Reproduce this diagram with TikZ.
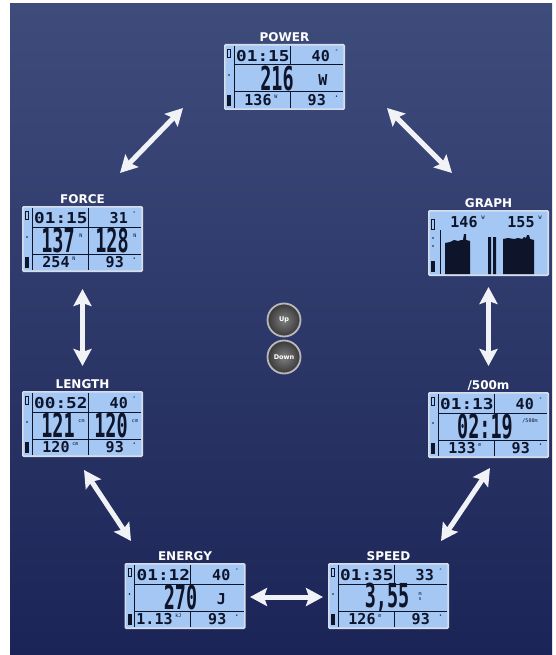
\documentclass[tikz,border=0pt]{standalone}
\usepackage{fontspec}
\usepackage{graphicx}
\usetikzlibrary{arrows.meta,calc}
\newfontfamily\lcdfont{DejaVu Sans Mono}
\newfontfamily\lblfont{DejaVu Sans}
\definecolor{bgtop}{RGB}{62,76,124}
\definecolor{bgbot}{RGB}{27,36,86}
\definecolor{lcdfill}{RGB}{164,199,244}
\definecolor{lcdink}{RGB}{14,20,42}
\definecolor{lcdrim}{RGB}{214,222,234}
\definecolor{arrowcol}{RGB}{240,242,246}
\newcommand\wideTime[1]{\scalebox{1.18}[1]{#1}}
\newcommand\bigDig[1]{\scalebox{0.56}[1]{\fontsize{33}{33}\selectfont\bfseries #1}}
\tikzset{
  lcdbox/.style={draw=lcdrim, line width=1.6pt, fill=lcdfill, minimum width=119.4pt, minimum height=64.4pt, inner sep=0pt, rounded corners=1pt},
  lcdlabel/.style={text=white, font=\lblfont\bfseries\fontsize{12}{12}\selectfont, inner sep=0pt, anchor=base},
  lcdline/.style={draw=lcdink, line width=1pt},
  lcds/.style={text=lcdink, font=\lcdfont\bfseries\fontsize{15}{15}\selectfont, inner sep=0pt},
  lcdb/.style={text=lcdink, font=\lcdfont, inner sep=0pt},
  lcdt/.style={text=lcdink, font=\lcdfont\fontsize{5}{5}\selectfont, inner sep=0pt, align=center},
  dbl/.style={{Stealth[length=17pt,width=18pt,inset=3pt]}-{Stealth[length=17pt,width=18pt,inset=3pt]}, line width=5pt, draw=arrowcol},
  btn/.style={circle, minimum size=33pt, inner sep=0pt, draw=gray!55, line width=1.8pt, shade, inner color=black!50, outer color=black!78, text=white, font=\lblfont\bfseries\fontsize{6.5}{6.5}\selectfont}
}
\newcommand\lcdbase[4]{%
  \node[lcdbox] (#1) at #2 {};
  \node[lcdlabel] (#1-lbl) at ($(#1.north)+(0,-2.5)$) {#3};
  \begin{scope}[shift={(#1.north west)}]
    \draw[lcdline] (10,2) -- (10,64);
    \draw[lcdline] (10,21) -- (119,21) (10,48) -- (119,48);
    \ifnum#4=1 \draw[lcdline] (66,2) -- (66,64);
    \else \draw[lcdline] (66,2) -- (66,21) (66,48) -- (66,64); \fi
    \draw[lcdink, line width=0.8pt] (3.5,5) rectangle (6.5,13);
    \fill[lcdink] (5,31) circle (0.9);
    \fill[lcdink] (3,51) rectangle (7,62);
  \end{scope}}
\newcommand\lcdrows[6]{%
  \begin{scope}[shift={(#1.north west)}]
    \node[lcds, anchor=west] (#1-time) at (12,12) {\wideTime{#2}};
    \node[lcds, anchor=east] (#1-tv) at (106,12) {#3};
    \node[lcdt] (#1-tu) at (112.5,7.5) {°};
    \node[lcds] (#1-bv) at (#6,56.5) {#4};
    \node[lcdt, anchor=west] (#1-bu) at ($(#1-bv.east)+(2.5,-3.5)$) {#5};
    \node[lcds, anchor=east] (#1-rv) at (102,56.5) {93};
    \node[lcdt] (#1-rd) at (112.5,53) {•};
  \end{scope}}
\begin{document}
\begin{tikzpicture}[x=1pt,y=-1pt]
\useasboundingbox (0,0) rectangle (556,655);
\fill[white] (0,0) rectangle (556,655);
\shade[top color=bgtop, bottom color=bgbot] (10,4) rectangle (552,655);

% POWER
\lcdbase{power}{(284.5,77)}{POWER}{0}
\lcdrows{power}{01:15}{40}{136}{W}{34}
\begin{scope}[shift={(power.north west)}]
  \node[lcdb] (power-m) at (53,34.5) {\bigDig{216}};
  \node[lcds] (power-mu) at (99,36) {W};
\end{scope}

% FORCE
\lcdbase{force}{(82.5,239)}{FORCE}{1}
\lcdrows{force}{01:15}{31}{254}{N}{34}
\begin{scope}[shift={(force.north west)}]
  \node[lcdb] (force-m1) at (36,34.5) {\bigDig{137}};
  \node[lcdt] (force-u1) at (59,30) {N};
  \node[lcdb] (force-m2) at (90,34.5) {\bigDig{128}};
  \node[lcdt] (force-u2) at (113,30) {N};
\end{scope}

% LENGTH
\lcdbase{length}{(82.5,424)}{LENGTH}{1}
\lcdrows{length}{00:52}{40}{120}{cm}{34}
\begin{scope}[shift={(length.north west)}]
  \node[lcdb] (length-m1) at (36,34.5) {\bigDig{121}};
  \node[lcdt] (length-u1) at (59.5,30) {cm};
  \node[lcdb] (length-m2) at (89,34.5) {\bigDig{120}};
  \node[lcdt] (length-u2) at (113,30) {cm};
\end{scope}

% /500m
\lcdbase{pace}{(488.5,425)}{/500m}{0}
\lcdrows{pace}{01:13}{40}{133}{m}{34}
\begin{scope}[shift={(pace.north west)}]
  \node[lcdb] (pace-m) at (57,34.5) {\bigDig{02:19}};
  \node[lcdt] (pace-mu) at (102,29) {/500m};
\end{scope}

% ENERGY
\lcdbase{energy}{(185,596)}{ENERGY}{0}
\lcdrows{energy}{01:12}{40}{1.13}{kJ}{30}
\begin{scope}[shift={(energy.north west)}]
  \node[lcdb] (energy-m) at (56,34.5) {\bigDig{270}};
  \node[lcds] (energy-mu) at (97,36) {J};
\end{scope}

% SPEED
\lcdbase{speed}{(388.5,596)}{SPEED}{0}
\lcdrows{speed}{01:35}{33}{126}{m}{34}
\begin{scope}[shift={(speed.north west)}]
  \node[lcdb] (speed-m) at (59,34.5) {\bigDig{3,55}};
  \node[lcdt] (speed-mu) at (92,34) {m\\s};
\end{scope}

% GRAPH
\node[lcdbox] (graph) at (488.5,243) {};
\node[lcdlabel] (graph-lbl) at ($(graph.north)+(0,-2.5)$) {GRAPH};
\begin{scope}[shift={(graph.north west)}]
  \draw[lcdline] (12,20) -- (12,64);
  \draw[lcdink, line width=0.8pt] (3.5,9) rectangle (6.5,19);
  \fill[lcdink] (5,28) circle (0.9) (5,36) circle (0.9);
  \fill[lcdink] (3,51) rectangle (7,62);
  \node[lcds] (graph-v1) at (36,12) {146};
  \node[lcdt] (graph-u1) at (55,8) {W};
  \node[lcds] (graph-v2) at (93,12) {155};
  \node[lcdt] (graph-u2) at (112,8) {W};
  \fill[lcdink] (17,64) -- (17,33) -- (22,32) -- (26,30) -- (30,31) -- (33,30) -- (35,30) -- (36,24) -- (38,24) -- (38,30) -- (42,31) -- (42,64) -- cycle;
  \fill[lcdink] (60,27) rectangle (63,64) (65,27) rectangle (68,64);
  \fill[lcdink] (75,64) -- (75,29) -- (80,28) -- (86,29) -- (90,28) -- (94,29) -- (96,27) -- (98,28) -- (99,25) -- (101,25) -- (102,29) -- (106,30) -- (106,64) -- cycle;
\end{scope}

% buttons
\node[btn] (up) at (284,320) {Up};
\node[btn] (down) at (284,357) {Down};

% arrows
\coordinate (a1a) at ($(power.south west)+(-41,-2)$);
\coordinate (a1b) at ($(force.north east)+(-23,-33)$);
\coordinate (a2a) at ($(power.south east)+(42,-2)$);
\coordinate (a2b) at ($(graph.north west)+(24,-37)$);
\coordinate (a3a) at ($(force.south)+(0,17)$);
\coordinate (a3b) at ($(length.north)+(0,-25)$);
\coordinate (a4a) at ($(graph.south)+(0,11)$);
\coordinate (a4b) at ($(pace.north)+(0,-26)$);
\coordinate (a5a) at ($(length.south)+(1.5,13)$);
\coordinate (a5b) at ($(energy.north west)+(6.5,-22)$);
\coordinate (a6a) at ($(pace.south)+(1.5,10)$);
\coordinate (a6b) at ($(speed.north east)+(-8,-22)$);
\coordinate (a7a) at ($(energy.east)+(4.5,1)$);
\coordinate (a7b) at ($(speed.west)+(-5,1)$);
\draw[dbl] (a1a) -- (a1b);
\draw[dbl] (a2a) -- (a2b);
\draw[dbl] (a3a) -- (a3b);
\draw[dbl] (a4a) -- (a4b);
\draw[dbl] (a5a) -- (a5b);
\draw[dbl] (a6a) -- (a6b);
\draw[dbl] (a7a) -- (a7b);
\end{tikzpicture}
\end{document}
